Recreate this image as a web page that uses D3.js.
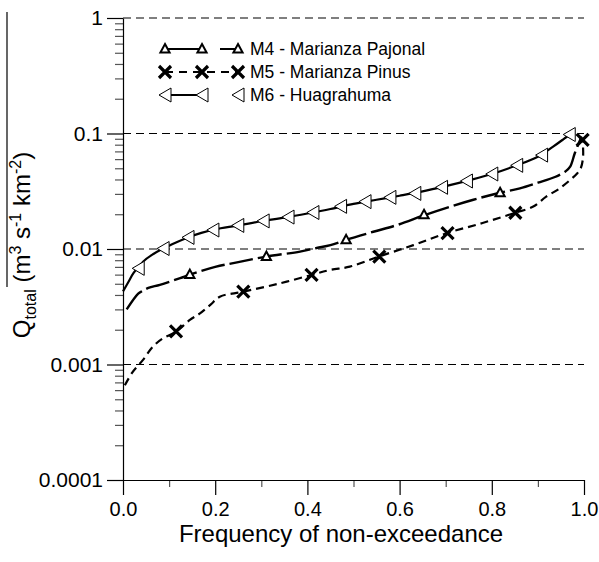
<!DOCTYPE html>
<html lang="en">
<head>
<meta charset="utf-8">
<title>Flow duration curves</title>
<script src="https://cdn.jsdelivr.net/npm/d3@7/dist/d3.min.js"></script>
<style>
  body { margin: 0; background: #fff; }
  svg text { font-family: "Liberation Sans", Arial, sans-serif; fill: #000; }
</style>
</head>
<body>
<svg id="chart" width="599" height="562"></svg>
<script>
// frequency of non-exceedance / Q (m3 s-1 km-2)
var m4Curve = [[0.008,0.0030],[0.033,0.0041],[0.041,0.0043],[0.055,0.0046],[0.08,0.0049],[0.124,0.0056],
  [0.145,0.0060],[0.2,0.0070],[0.25,0.0077],[0.311,0.0086],[0.384,0.0095],[0.42,0.0102],[0.45,0.0108],
  [0.484,0.0120],[0.543,0.0141],[0.594,0.0161],[0.655,0.0197],[0.709,0.0232],[0.76,0.0267],[0.818,0.0307],
  [0.861,0.0335],[0.9,0.0375],[0.937,0.0420],[0.96,0.047],[0.97,0.0516],[0.98,0.0674],[0.99,0.085],[0.995,0.094]];
var m5Curve = [[0.004,0.00066],[0.02,0.00085],[0.043,0.00109],[0.065,0.00143],[0.087,0.00169],[0.115,0.00192],
  [0.145,0.00243],[0.167,0.00277],[0.19,0.0033],[0.21,0.00386],[0.261,0.00427],[0.341,0.00505],[0.409,0.00596],
  [0.449,0.00658],[0.492,0.00703],[0.554,0.00858],[0.63,0.0108],[0.702,0.0137],[0.78,0.0168],[0.851,0.0206],
  [0.89,0.0233],[0.918,0.0284],[0.945,0.033],[0.97,0.0396],[0.985,0.0450],[0.993,0.0500],[0.998,0.063],[0.997,0.088]];
var m6Curve = [[0,0.0043],[0.012,0.0052],[0.023,0.0062],[0.044,0.0078],[0.065,0.0090],[0.087,0.0101],
  [0.115,0.0114],[0.141,0.0126],[0.17,0.0138],[0.2,0.0148],[0.25,0.0160],[0.3,0.0174],[0.35,0.0187],
  [0.4,0.0203],[0.45,0.0222],[0.5,0.0246],[0.55,0.0267],[0.6,0.0289],[0.65,0.0315],[0.7,0.0350],
  [0.75,0.0393],[0.8,0.0446],[0.85,0.0523],[0.9,0.063],[0.933,0.077],[0.955,0.089],[0.972,0.1]];

var m4Marks = [[0.145,0.0060],[0.311,0.0086],[0.484,0.0120],[0.653,0.0198],[0.818,0.0307]];
var m5Marks = [[0.115,0.00194],[0.261,0.00427],[0.409,0.00596],[0.556,0.0086],[0.704,0.0137],[0.851,0.0206],[0.997,0.088]];
var m6Marks = [[0.033,0.0068],[0.087,0.0101],[0.141,0.0126],[0.195,0.0146],[0.249,0.0160],[0.304,0.0175],
  [0.358,0.0189],[0.412,0.0207],[0.472,0.0234],[0.525,0.0257],[0.579,0.0280],[0.633,0.0303],[0.691,0.0342],
  [0.745,0.0388],[0.80,0.0446],[0.854,0.053],[0.908,0.065],[0.968,0.098]];

var seriesNames = ["M4 - Marianza Pajonal", "M5 - Marianza Pinus", "M6 - Huagrahuma"];
var xTicks = [0, 0.2, 0.4, 0.6, 0.8, 1.0];
var xMinor = [0.1, 0.3, 0.5, 0.7, 0.9];
var yTicks = [0.0001, 0.001, 0.01, 0.1, 1];
var yTickLabels = ["0.0001", "0.001", "0.01", "0.1", "1"];

var svg = d3.select("#chart");
var x = d3.scaleLinear().domain([0, 1]).range([123, 584]);
var y = d3.scaleLog().domain([0.0001, 1]).range([480, 18]);

// dashed decade lines
svg.append("g").selectAll("line")
  .data(yTicks.slice(1))
  .enter().append("line")
  .attr("x1", x(0)).attr("x2", x(1))
  .attr("y1", function (d) { return y(d); })
  .attr("y2", function (d) { return y(d); })
  .attr("stroke", "#000").attr("stroke-width", 1.2)
  .attr("stroke-dasharray", "8,5");

// minor ticks on the log axis
var yMinor = [];
for (var e = -4; e < 0; e++) {
  for (var k = 2; k < 10; k++) yMinor.push(k * Math.pow(10, e));
}

svg.append("g")
  .attr("transform", "translate(" + x(0) + ",0)")
  .call(d3.axisLeft(y).tickValues(yMinor).tickSize(8).tickFormat(""))
  .call(function (g) { g.select(".domain").remove(); g.selectAll("line").attr("stroke", "#555"); });

var yAxis = svg.append("g")
  .attr("transform", "translate(" + x(0) + ",0)")
  .call(d3.axisLeft(y).tickValues(yTicks).tickSize(16).tickSizeOuter(0).tickPadding(4)
    .tickFormat(function (d, i) { return yTickLabels[i]; }));
yAxis.selectAll("text").attr("font-size", 21).attr("fill", "#000");

svg.append("g")
  .attr("transform", "translate(0," + y(0.0001) + ")")
  .call(d3.axisBottom(x).tickValues(xMinor).tickSize(7).tickFormat(""))
  .call(function (g) { g.select(".domain").remove(); g.selectAll("line").attr("stroke", "#555"); });

var xAxis = svg.append("g")
  .attr("transform", "translate(0," + y(0.0001) + ")")
  .call(d3.axisBottom(x).tickValues(xTicks).tickSize(15).tickSizeOuter(0).tickPadding(7)
    .tickFormat(d3.format(".1f")));
xAxis.selectAll("text").attr("font-size", 20).attr("fill", "#000");
svg.selectAll(".domain, .tick line").attr("stroke-width", 1.2);

// axis titles
svg.append("text")
  .attr("x", 341).attr("y", 542)
  .attr("text-anchor", "middle")
  .attr("font-size", 24)
  .text("Frequency of non-exceedance");

var yt = svg.append("text")
  .attr("transform", "translate(30,245) rotate(-90)")
  .attr("text-anchor", "middle")
  .attr("font-size", 24);
yt.append("tspan").text("Q");
yt.append("tspan").attr("font-size", 16).attr("dy", 6).text("total");
yt.append("tspan").attr("dy", -6).text(" (m");
yt.append("tspan").attr("font-size", 16).attr("dy", -9).text("3");
yt.append("tspan").attr("dy", 9).text(" s");
yt.append("tspan").attr("font-size", 16).attr("dy", -9).text("-1");
yt.append("tspan").attr("dy", 9).text(" km");
yt.append("tspan").attr("font-size", 16).attr("dy", -9).text("-2");
yt.append("tspan").attr("dy", 9).text(")");
svg.append("line")
  .attr("x1", 7).attr("x2", 7).attr("y1", 12).attr("y2", 287)
  .attr("stroke", "#000").attr("stroke-width", 1.2);

// curves
var line = d3.line()
  .x(function (d) { return x(d[0]); })
  .y(function (d) { return y(d[1]); })
  .curve(d3.curveCatmullRom.alpha(0.5));

var styles = [
  { data: m4Curve, dash: "24,5", width: 2.4 },
  { data: m5Curve, dash: "8,5", width: 2.2 },
  { data: m6Curve, dash: null, width: 2.2 }
];
styles.forEach(function (s) {
  svg.append("path")
    .attr("d", line(s.data))
    .attr("fill", "none")
    .attr("stroke", "#000")
    .attr("stroke-width", s.width)
    .attr("stroke-dasharray", s.dash);
});

// marker shapes
function triUp(g) {
  g.append("path").attr("d", "M0,-5L4.6,3.5L-4.6,3.5Z")
    .attr("fill", "#fff").attr("stroke", "#000").attr("stroke-width", 2);
}
function cross(g) {
  g.append("path").attr("d", "M-6,-6L6,6M-6,6L6,-6")
    .attr("stroke", "#000").attr("stroke-width", 3.2);
}
function triLeft(g) {
  g.append("path").attr("d", "M-6,0L6,-7L6,7Z")
    .attr("fill", "#fff").attr("stroke", "#000").attr("stroke-width", 1);
}

function drawMarks(data, shape) {
  svg.append("g").selectAll("g")
    .data(data)
    .enter().append("g")
    .attr("transform", function (d) { return "translate(" + x(d[0]) + "," + y(d[1]) + ")"; })
    .each(function () { shape(d3.select(this)); });
}
drawMarks(m6Marks, triLeft);
drawMarks(m4Marks, triUp);
drawMarks(m5Marks, cross);

// legend
var legendRows = [
  { y: 49, dash: "37,18", lineTo: 238, shape: triUp, width: 2 },
  { y: 72, dash: "8,6", lineTo: 238, shape: cross, width: 2.2 },
  { y: 95, dash: null, lineTo: 202, shape: triLeft, width: 2 }
];
var legendX = [165, 202, 238];
legendRows.forEach(function (r, i) {
  svg.append("line")
    .attr("x1", legendX[0]).attr("x2", r.lineTo)
    .attr("y1", r.y).attr("y2", r.y)
    .attr("stroke", "#000").attr("stroke-width", r.width)
    .attr("stroke-dasharray", r.dash);
  legendX.forEach(function (lx) {
    var g = svg.append("g").attr("transform", "translate(" + lx + "," + r.y + ")");
    r.shape(g);
  });
  svg.append("text")
    .attr("x", 250).attr("y", r.y + 6)
    .attr("font-size", 17.5)
    .text(seriesNames[i]);
});
</script>
</body>
</html>
